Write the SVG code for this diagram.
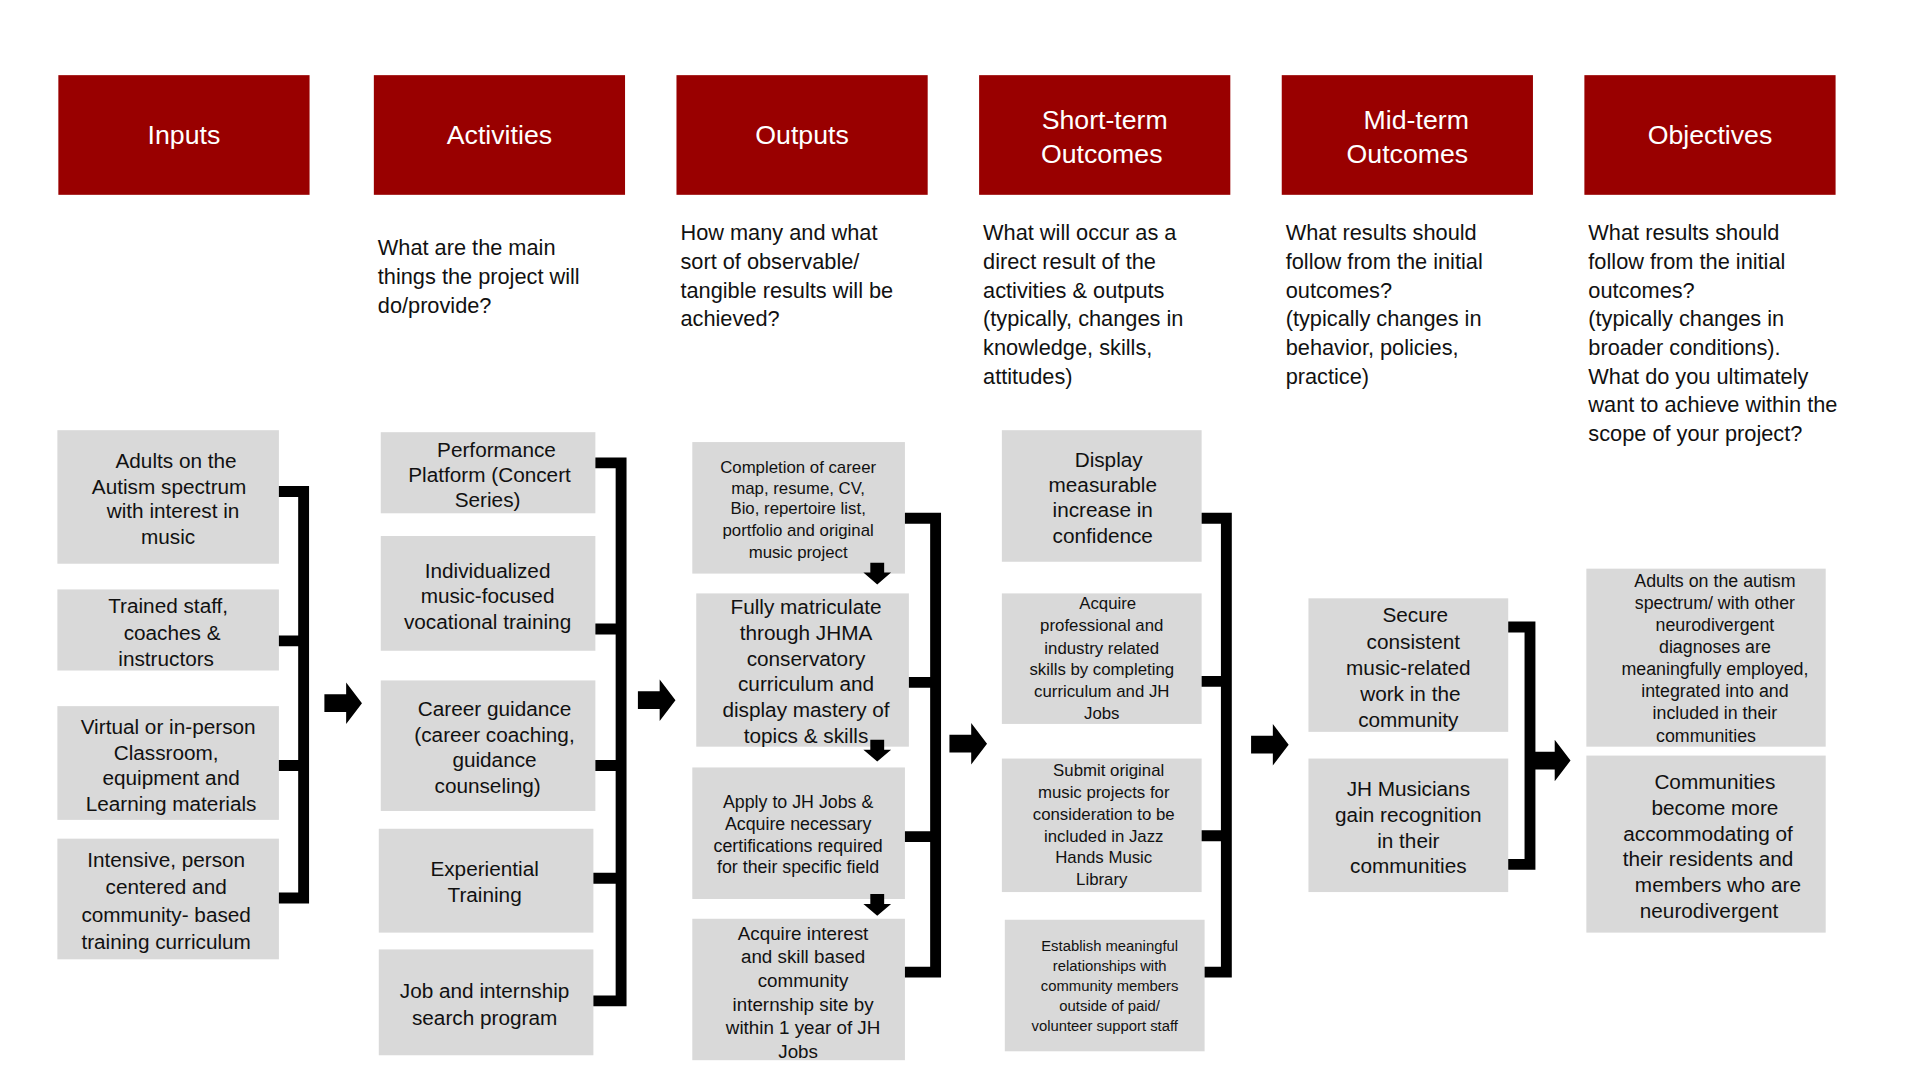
<svg xmlns="http://www.w3.org/2000/svg" width="1920" height="1080" viewBox="0 0 1920 1080">
<style>
.h{fill:#990000}
.ht{fill:#fff;font-family:"Liberation Sans",Arial,sans-serif;font-size:27px;text-anchor:middle}
.d{fill:#111;font-family:"Liberation Sans",Arial,sans-serif;font-size:22px}
.b{fill:#d9d9d9}
.t{fill:#111;font-family:"Liberation Sans",Arial,sans-serif;font-size:21px;text-anchor:middle}
.br{fill:none;stroke:#000;stroke-width:11}
.ar{fill:#000}
</style>
<defs>
<path id="arr" d="M0,-9 H22 V-21 L38,0 L22,21 V9 H0 Z"/>
<path id="darr" d="M-7,0 H7 V10 H14 L0,22 L-14,10 H-7 Z"/>
</defs>
<rect width="1920" height="1080" fill="#fff"/>
<g transform="translate(0,-1) scale(0.989)">
<g id="headers">
<rect class="h" x="59" y="77" width="254" height="121"/><text class="ht" x="186" y="147">Inputs</text>
<rect class="h" x="378" y="77" width="254" height="121"/><text class="ht" x="505" y="147">Activities</text>
<rect class="h" x="684" y="77" width="254" height="121"/><text class="ht" x="811" y="147">Outputs</text>
<rect class="h" x="990" y="77" width="254" height="121"/><text class="ht" x="1117" y="131">Short-term</text><text class="ht" x="1114" y="166">Outcomes</text>
<rect class="h" x="1296" y="77" width="254" height="121"/><text class="ht" x="1432" y="131">Mid-term</text><text class="ht" x="1423" y="166">Outcomes</text>
<rect class="h" x="1602" y="77" width="254" height="121"/><text class="ht" x="1729" y="147">Objectives</text>
</g>
<g id="descriptions">
<text class="d"><tspan x="382" y="259">What are the main</tspan><tspan x="382" y="288">things the project will</tspan><tspan x="382" y="317">do/provide?</tspan></text>
<text class="d"><tspan x="688" y="244">How many and what</tspan><tspan x="688" y="273">sort of observable/</tspan><tspan x="688" y="302">tangible results will be</tspan><tspan x="688" y="331">achieved?</tspan></text>
<text class="d"><tspan x="994" y="244">What will occur as a</tspan><tspan x="994" y="273">direct result of the</tspan><tspan x="994" y="302">activities &amp; outputs</tspan><tspan x="994" y="331">(typically, changes in</tspan><tspan x="994" y="360">knowledge, skills,</tspan><tspan x="994" y="389">attitudes)</tspan></text>
<text class="d"><tspan x="1300" y="244">What results should</tspan><tspan x="1300" y="273">follow from the initial</tspan><tspan x="1300" y="302">outcomes?</tspan><tspan x="1300" y="331">(typically changes in</tspan><tspan x="1300" y="360">behavior, policies,</tspan><tspan x="1300" y="389">practice)</tspan></text>
<text class="d"><tspan x="1606" y="244">What results should</tspan><tspan x="1606" y="273">follow from the initial</tspan><tspan x="1606" y="302">outcomes?</tspan><tspan x="1606" y="331">(typically changes in</tspan><tspan x="1606" y="360">broader conditions).</tspan><tspan x="1606" y="389">What do you ultimately</tspan><tspan x="1606" y="418">want to achieve within the</tspan><tspan x="1606" y="447">scope of your project?</tspan></text>
</g>
<g id="in1"><rect class="b" x="58" y="436" width="224" height="135"/><text class="t"><tspan x="178" y="474">Adults on the</tspan><tspan x="171" y="500">Autism spectrum</tspan><tspan x="175" y="525">with interest in</tspan><tspan x="170" y="551">music</tspan></text></g>
<g id="in2"><rect class="b" x="58" y="597" width="224" height="82"/><text class="t"><tspan x="170" y="621">Trained staff,</tspan><tspan x="174" y="648">coaches &amp;</tspan><tspan x="168" y="674">instructors</tspan></text></g>
<g id="in3"><rect class="b" x="58" y="715" width="224" height="115"/><text class="t"><tspan x="170" y="743">Virtual or in-person</tspan><tspan x="168" y="769">Classroom,</tspan><tspan x="173" y="795">equipment and</tspan><tspan x="173" y="821">Learning materials</tspan></text></g>
<g id="in4"><rect class="b" x="58" y="849" width="224" height="122"/><text class="t"><tspan x="168" y="878">Intensive, person</tspan><tspan x="168" y="905">centered and</tspan><tspan x="168" y="933">community- based</tspan><tspan x="168" y="961">training curriculum</tspan></text></g>

<g id="ac1"><rect class="b" x="385" y="438" width="217" height="82"/><text class="t"><tspan x="502" y="463">Performance</tspan><tspan x="495" y="488">Platform (Concert</tspan><tspan x="493" y="514">Series)</tspan></text></g>
<g id="ac2"><rect class="b" x="385" y="543" width="217" height="116"/><text class="t"><tspan x="493" y="585">Individualized</tspan><tspan x="493" y="611">music-focused</tspan><tspan x="493" y="637">vocational training</tspan></text></g>
<g id="ac3"><rect class="b" x="385" y="689" width="217" height="132"/><text class="t"><tspan x="500" y="725">Career guidance</tspan><tspan x="500" y="751">(career coaching,</tspan><tspan x="500" y="777">guidance</tspan><tspan x="493" y="803">counseling)</tspan></text></g>
<g id="ac4"><rect class="b" x="383" y="839" width="217" height="105"/><text class="t"><tspan x="490" y="887">Experiential</tspan><tspan x="490" y="913">Training</tspan></text></g>
<g id="ac5"><rect class="b" x="383" y="961" width="217" height="107"/><text class="t"><tspan x="490" y="1010">Job and internship</tspan><tspan x="490" y="1037">search program</tspan></text></g>

<g id="ou1"><rect class="b" x="700" y="448" width="215" height="133"/><text class="t" style="font-size:17px"><tspan x="807" y="479">Completion of career</tspan><tspan x="807" y="500">map, resume, CV,</tspan><tspan x="807" y="521">Bio, repertoire list,</tspan><tspan x="807" y="543">portfolio and original</tspan><tspan x="807" y="565">music project</tspan></text></g>
<g id="ou2"><rect class="b" x="704" y="601" width="215" height="155"/><text class="t"><tspan x="815" y="622">Fully matriculate</tspan><tspan x="815" y="648">through JHMA</tspan><tspan x="815" y="674">conservatory</tspan><tspan x="815" y="700">curriculum and</tspan><tspan x="815" y="726">display mastery of</tspan><tspan x="815" y="752">topics &amp; skills</tspan></text></g>
<g id="ou3"><rect class="b" x="700" y="777" width="215" height="133"/><text class="t" style="font-size:18px"><tspan x="807" y="818">Apply to JH Jobs &amp;</tspan><tspan x="807" y="840">Acquire necessary</tspan><tspan x="807" y="862">certifications required</tspan><tspan x="807" y="884">for their specific field</tspan></text></g>
<g id="ou4"><rect class="b" x="700" y="930" width="215" height="143"/><text class="t" style="font-size:19px"><tspan x="812" y="951">Acquire interest</tspan><tspan x="812" y="975">and skill based</tspan><tspan x="812" y="999">community</tspan><tspan x="812" y="1023">internship site by</tspan><tspan x="812" y="1047">within 1 year of JH</tspan><tspan x="807" y="1071">Jobs</tspan></text></g>

<g id="st1"><rect class="b" x="1013" y="436" width="202" height="133"/><text class="t"><tspan x="1121" y="473">Display</tspan><tspan x="1115" y="498">measurable</tspan><tspan x="1115" y="524">increase in</tspan><tspan x="1115" y="550">confidence</tspan></text></g>
<g id="st2"><rect class="b" x="1013" y="601" width="202" height="132"/><text class="t" style="font-size:17px"><tspan x="1120" y="617">Acquire</tspan><tspan x="1114" y="639">professional and</tspan><tspan x="1114" y="662">industry related</tspan><tspan x="1114" y="684">skills by completing</tspan><tspan x="1114" y="706">curriculum and JH</tspan><tspan x="1114" y="728">Jobs</tspan></text></g>
<g id="st3"><rect class="b" x="1013" y="768" width="202" height="135"/><text class="t" style="font-size:17px"><tspan x="1121" y="786">Submit original</tspan><tspan x="1116" y="808">music projects for</tspan><tspan x="1116" y="830">consideration to be</tspan><tspan x="1116" y="852">included in Jazz</tspan><tspan x="1116" y="874">Hands Music</tspan><tspan x="1114" y="896">Library</tspan></text></g>
<g id="st4"><rect class="b" x="1016" y="931" width="202" height="133"/><text class="t" style="font-size:15px"><tspan x="1122" y="963">Establish meaningful</tspan><tspan x="1122" y="983">relationships with</tspan><tspan x="1122" y="1003">community members</tspan><tspan x="1122" y="1023">outside of paid/</tspan><tspan x="1117" y="1043">volunteer support staff</tspan></text></g>

<g id="mt1"><rect class="b" x="1323" y="606" width="202" height="135"/><text class="t"><tspan x="1431" y="630">Secure</tspan><tspan x="1429" y="657">consistent</tspan><tspan x="1424" y="684">music-related</tspan><tspan x="1426" y="710">work in the</tspan><tspan x="1424" y="736">community</tspan></text></g>
<g id="mt2"><rect class="b" x="1323" y="768" width="202" height="135"/><text class="t"><tspan x="1424" y="806">JH Musicians</tspan><tspan x="1424" y="832">gain recognition</tspan><tspan x="1424" y="858">in their</tspan><tspan x="1424" y="884">communities</tspan></text></g>

<g id="ob1"><rect class="b" x="1604" y="576" width="242" height="180"/><text class="t" style="font-size:18px"><tspan x="1734" y="595">Adults on the autism</tspan><tspan x="1734" y="617">spectrum/ with other</tspan><tspan x="1734" y="639">neurodivergent</tspan><tspan x="1734" y="661">diagnoses are</tspan><tspan x="1734" y="684">meaningfully employed,</tspan><tspan x="1734" y="706">integrated into and</tspan><tspan x="1734" y="728">included in their</tspan><tspan x="1725" y="751">communities</tspan></text></g>
<g id="ob2"><rect class="b" x="1604" y="765" width="242" height="179"/><text class="t"><tspan x="1734" y="799">Communities</tspan><tspan x="1734" y="825">become more</tspan><tspan x="1727" y="851">accommodating of</tspan><tspan x="1727" y="877">their residents and</tspan><tspan x="1737" y="903">members who are</tspan><tspan x="1728" y="929">neurodivergent</tspan></text></g>

<g id="connectors">
<path class="br" d="M282,498 H307 V909 H282 M282,649 H307 M282,775 H307"/>
<path class="br" d="M602,469 H628 V1013 H600 M602,637 H628 M602,775 H628 M600,889 H628"/>
<path class="br" d="M915,525 H946 V984 H915 M919,691 H946 M915,847 H946"/>
<path class="br" d="M1215,525 H1240 V984 H1218 M1215,690 H1240 M1215,846 H1240"/>
<path class="br" d="M1525,635 H1547 V875 H1525"/>
<use href="#arr" class="ar" x="328" y="712"/>
<use href="#arr" class="ar" x="645" y="709"/>
<use href="#arr" class="ar" x="960" y="753"/>
<use href="#arr" class="ar" x="1265" y="754"/>
<use href="#arr" class="ar" x="1550" y="770"/>
<use href="#darr" class="ar" x="887" y="570"/>
<use href="#darr" class="ar" x="887" y="749"/>
<use href="#darr" class="ar" x="887" y="905"/>
</g>
</g>
</svg>
